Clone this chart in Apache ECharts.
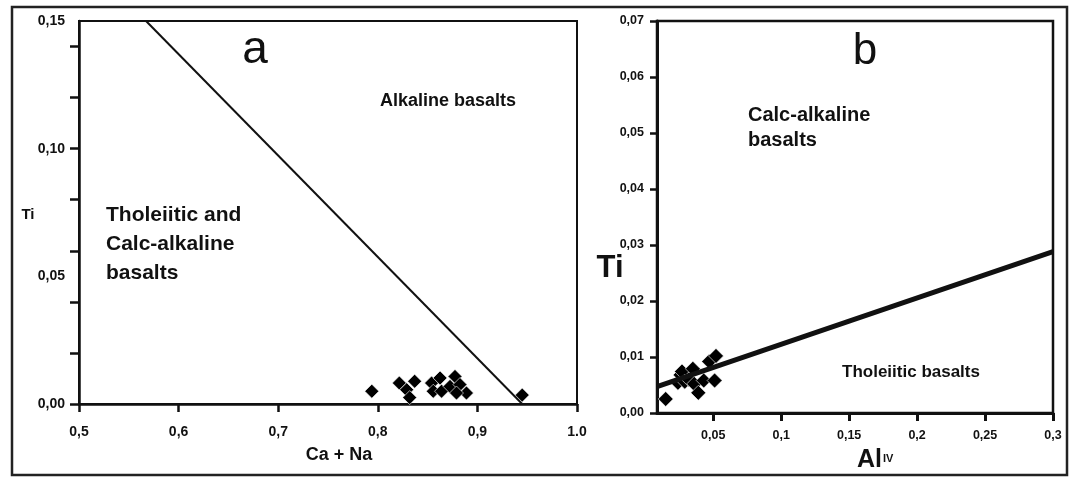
<!DOCTYPE html>
<html>
<head>
<meta charset="utf-8">
<title>Ti discrimination diagrams</title>
<script src="https://cdn.jsdelivr.net/npm/echarts@6/dist/echarts.min.js"></script>
<style>
  html, body { margin: 0; padding: 0; background: #fff; }
  #chart { width: 1072px; height: 477px; }
</style>
</head>
<body>
<div id="chart"></div>
<script>
// panel a: Ti vs Ca + Na
const pointsA = [
  [0.794, 0.0050], [0.8216, 0.0082], [0.829, 0.0056], [0.832, 0.0025],
  [0.837, 0.0089], [0.854, 0.0082], [0.8625, 0.0102], [0.8557, 0.0050],
  [0.864, 0.0050], [0.8775, 0.0108], [0.8725, 0.0069], [0.8825, 0.0076],
  [0.889, 0.0043], [0.879, 0.0043], [0.945, 0.0035]
]
const boundaryA = [[0.5673, 0.15], [0.945, 0]]
const xTickValsA = [0.5, 0.6, 0.7, 0.8, 0.9, 1.0]
const xLabelsA = ['0,5', '0,6', '0,7', '0,8', '0,9', '1.0']
const yTickValsA = [0, 0.02, 0.04, 0.06, 0.08, 0.10, 0.12, 0.14]
const yLabelValsA = [0, 0.05, 0.10, 0.15]
const yLabelsA = ['0,00', '0,05', '0,10', '0,15']

// panel b: Ti vs Al(IV)
const pointsB = [
  [0.015, 0.0025], [0.024, 0.0054], [0.026, 0.0068], [0.027, 0.0074],
  [0.029, 0.0056], [0.032, 0.0060], [0.035, 0.0079], [0.036, 0.0052],
  [0.039, 0.0036], [0.043, 0.0058], [0.047, 0.0092], [0.051, 0.0058],
  [0.052, 0.0102]
]
const xMinB = 0.0086
const boundaryB = [[xMinB, 0.0047], [0.3, 0.0288]]
const xTickValsB = [0.05, 0.1, 0.15, 0.2, 0.25, 0.3]
const xLabelsB = ['0,05', '0,1', '0,15', '0,2', '0,25', '0,3']
const yTickValsB = [0, 0.01, 0.02, 0.03, 0.04, 0.05, 0.06, 0.07]
const yLabelsB = ['0,00', '0,01', '0,02', '0,03', '0,04', '0,05', '0,06', '0,07']

const FONT = '"Liberation Sans", Arial, sans-serif'
const INK = '#111'

// pick the label text that belongs to a tick value
const labelFor = (vals, labels) => v => {
  const i = vals.findIndex(t => Math.abs(t - v) < 1e-6)
  return i < 0 ? '' : labels[i]
}

const chart = echarts.init(document.getElementById('chart'))

const axisBase = (lineWidth) => ({
  axisLine: { show: true, lineStyle: { color: INK, width: lineWidth } },
  splitLine: { show: false }
})

const option = {
  animation: false,
  backgroundColor: '#fff',
  grid: [
    { left: 79, top: 21, width: 498, height: 383, show: true, borderColor: INK, borderWidth: 2 },
    { left: 657, top: 21, width: 396, height: 392, show: true, borderColor: INK, borderWidth: 2.5 }
  ],
  xAxis: [
    {
      gridIndex: 0, type: 'value', min: 0.5, max: 1.0,
      ...axisBase(2.5),
      axisTick: { show: true, length: 8, lineStyle: { color: INK, width: 2.5 }, customValues: xTickValsA },
      axisLabel: { color: INK, fontWeight: 'bold', fontFamily: FONT, fontSize: 14, margin: 21,
        customValues: xTickValsA, formatter: labelFor(xTickValsA, xLabelsA) }
    },
    {
      gridIndex: 1, type: 'value', min: xMinB, max: 0.3,
      ...axisBase(3),
      axisTick: { show: true, length: 8, lineStyle: { color: INK, width: 3 }, customValues: xTickValsB },
      axisLabel: { color: INK, fontWeight: 'bold', fontFamily: FONT, fontSize: 12.5, margin: 16,
        customValues: xTickValsB, formatter: labelFor(xTickValsB, xLabelsB) }
    }
  ],
  yAxis: [
    {
      gridIndex: 0, type: 'value', min: 0, max: 0.15,
      ...axisBase(2.5),
      axisTick: { show: true, length: 9, lineStyle: { color: INK, width: 2.5 }, customValues: yTickValsA },
      axisLabel: { color: INK, fontWeight: 'bold', fontFamily: FONT, fontSize: 14, margin: 14,
        customValues: yLabelValsA, formatter: labelFor(yLabelValsA, yLabelsA) }
    },
    {
      gridIndex: 1, type: 'value', min: 0, max: 0.07,
      ...axisBase(3),
      axisTick: { show: true, length: 7, lineStyle: { color: INK, width: 2.5 }, customValues: yTickValsB },
      axisLabel: { color: INK, fontWeight: 'bold', fontFamily: FONT, fontSize: 12.5, margin: 13,
        customValues: yTickValsB, formatter: labelFor(yTickValsB, yLabelsB) }
    }
  ],
  series: [
    {
      type: 'line', xAxisIndex: 0, yAxisIndex: 0, data: boundaryA,
      symbol: 'none', lineStyle: { color: INK, width: 2 }, silent: true
    },
    {
      type: 'scatter', xAxisIndex: 0, yAxisIndex: 0, data: pointsA,
      symbol: 'diamond', symbolSize: 14,
      itemStyle: { color: '#000', borderColor: '#fff', borderWidth: 0.6, opacity: 1 }
    },
    {
      type: 'line', xAxisIndex: 1, yAxisIndex: 1, data: boundaryB,
      symbol: 'none', lineStyle: { color: INK, width: 5 }, silent: true, z: 3
    },
    {
      type: 'scatter', xAxisIndex: 1, yAxisIndex: 1, data: pointsB,
      symbol: 'diamond', symbolSize: 15,
      itemStyle: { color: '#000', borderColor: '#fff', borderWidth: 0.6, opacity: 1 }, z: 2
    }
  ],
  graphic: [
    // outer frame round both panels
    { type: 'rect', shape: { x: 12, y: 7, width: 1055, height: 468 },
      style: { fill: null, stroke: '#222', lineWidth: 2.5 }, z: 100 },

    // panel a texts
    { type: 'text', x: 255, y: 50, style: { text: 'a', font: '46px ' + FONT, fill: INK, align: 'center', verticalAlign: 'middle' } },
    { type: 'text', x: 448, y: 101, style: { text: 'Alkaline basalts', font: 'bold 18px ' + FONT, fill: INK, align: 'center', verticalAlign: 'middle' } },
    { type: 'text', x: 106, y: 201, style: { text: 'Tholeiitic and\nCalc-alkaline\nbasalts', font: 'bold 21px ' + FONT, lineHeight: 29, fill: INK, align: 'left', verticalAlign: 'top' } },
    { type: 'text', x: 28, y: 215, style: { text: 'Ti', font: 'bold 15px ' + FONT, fill: INK, align: 'center', verticalAlign: 'middle' } },
    { type: 'text', x: 339, y: 455, style: { text: 'Ca + Na', font: 'bold 18px ' + FONT, fill: INK, align: 'center', verticalAlign: 'middle' } },

    // panel b texts
    { type: 'text', x: 865, y: 52, style: { text: 'b', font: '44px ' + FONT, fill: INK, align: 'center', verticalAlign: 'middle' } },
    { type: 'text', x: 748, y: 103, style: { text: 'Calc-alkaline\nbasalts', font: 'bold 20px ' + FONT, lineHeight: 25, fill: INK, align: 'left', verticalAlign: 'top' } },
    { type: 'text', x: 911, y: 372, style: { text: 'Tholeiitic basalts', font: 'bold 17px ' + FONT, fill: INK, align: 'center', verticalAlign: 'middle' } },
    { type: 'text', x: 610, y: 268, style: { text: 'Ti', font: 'bold 31px ' + FONT, fill: INK, align: 'center', verticalAlign: 'middle' } },
    { type: 'text', x: 882, y: 473, style: { text: 'Al', font: 'bold 25px ' + FONT, fill: INK, align: 'right', verticalAlign: 'bottom' } },
    { type: 'text', x: 883, y: 453, style: { text: 'IV', font: 'bold 11px ' + FONT, fill: INK, align: 'left', verticalAlign: 'top' } }
  ]
}

chart.setOption(option)
</script>
</body>
</html>
